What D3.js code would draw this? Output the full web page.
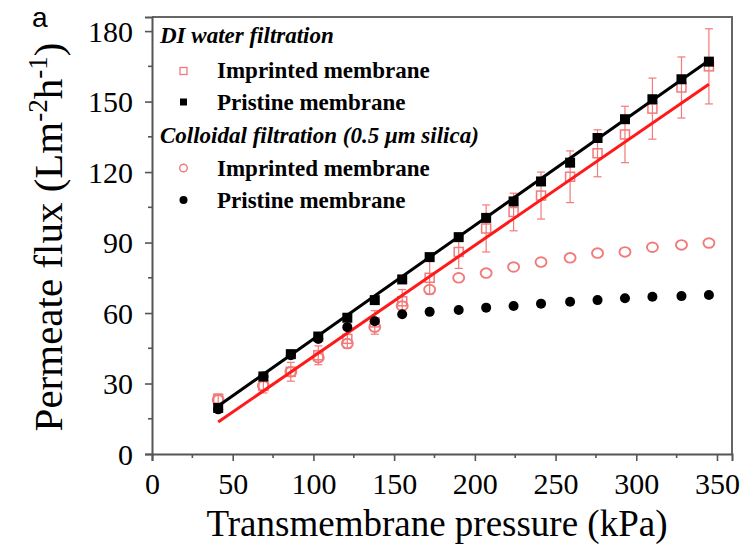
<!DOCTYPE html>
<html>
<head>
<meta charset="utf-8">
<script src="https://cdn.jsdelivr.net/npm/d3@7"></script>
<style>
  html, body { margin: 0; padding: 0; background: #fff; }
  svg { display: block; }
  text { font-family: "Liberation Serif", "Times New Roman", serif; fill: #000; }
</style>
</head>
<body>
<svg id="chart" width="741" height="546"></svg>
<script>
// Transmembrane pressure (kPa) at each measurement
const pressure = [41, 69, 86, 103, 121, 138, 155, 172, 190, 207, 224, 241, 259, 276, 293, 310, 328, 345];

// DI water filtration, permeate flux (L m^-2 h^-1)
const diImprinted    = [23.5, 29, 35, 42, 49, 56, 65, 75, 86, 96, 103, 110, 118, 128, 136, 147, 156, 165];
const diImprintedErr = [2, 3, 4, 4, 4, 5, 5, 7, 7, 10, 8, 10, 11, 10, 12, 13, 13, 16];
const diPristine     = [19.6, 33, 42.5, 50, 58, 65.5, 74.3, 83.8, 92.3, 100.5, 107.5, 116, 124, 134.5, 142.5, 151, 159.5, 167];

// Colloidal filtration (0.5 µm silica)
const colImprinted = [23, 29, 35, 41, 47, 54, 63, 70, 75, 77, 79.6, 81.7, 83.5, 85.5, 86, 88, 89, 89.8];
const colPristine  = [19, 33, 42, 49, 54, 56.5, 59.5, 60.5, 61.3, 62.3, 63, 64, 64.8, 65.5, 66.3, 66.9, 67.2, 67.7];

// Linear fits of the DI water flux: [intercept, slope]
const fitPristine  = [0.56, 0.4839];
const fitImprinted = [-5.79, 0.473];

// Axis ticks
const xTicks = [0, 50, 100, 150, 200, 250, 300, 350];
const yTicks = [0, 30, 60, 90, 120, 150, 180];
const xMinor = [25, 75, 125, 175, 225, 275, 325];
const yMinor = [15, 45, 75, 105, 135, 165];

const RED = "#ff1a1a";
const PINK = "#f27a7a";

const svg = d3.select("#chart");
const x = d3.scaleLinear().domain([0, 359.3]).range([152, 732]);
const y = d3.scaleLinear().domain([0, 186]).range([454, 17]);

// Panel letter
svg.append("text").attr("x", 32).attr("y", 27)
  .style("font-family", "'Liberation Sans', Arial, sans-serif")
  .style("font-size", "28px").text("a");

// Plot frame (top and right)
svg.append("path")
  .attr("d", `M${x(0)},${y(186)}H${x(359.3)}V${y(0)}`)
  .attr("fill", "none").attr("stroke", "#666").attr("stroke-width", 2);

// Axes
const xAxis = d3.axisBottom(x).tickValues(xTicks).tickSize(7).tickPadding(10).tickFormat(d3.format("d"));
const yAxis = d3.axisLeft(y).tickValues(yTicks).tickSize(7).tickPadding(12).tickFormat(d3.format("d"));

const gx = svg.append("g").attr("transform", `translate(0,${y(0)})`).call(xAxis);
const gy = svg.append("g").attr("transform", `translate(${x(0)},0)`).call(yAxis);
[gx, gy].forEach(g => {
  g.select(".domain").attr("stroke", "#555").attr("stroke-width", 2);
  g.selectAll(".tick line").attr("stroke", "#555").attr("stroke-width", 1.6);
  g.selectAll(".tick text").style("font-size", "30px")
    .style("font-family", "'Liberation Serif', 'Times New Roman', serif").attr("fill", "#000");
});
gx.selectAll(".tick text").attr("dy", "0.78em");
gy.selectAll(".tick text").attr("dy", "0.34em");

// Minor ticks
svg.append("g").selectAll("line").data(xMinor).join("line")
  .attr("x1", d => x(d)).attr("x2", d => x(d))
  .attr("y1", y(0)).attr("y2", y(0) + 4)
  .attr("stroke", "#555").attr("stroke-width", 1.6);
svg.append("g").selectAll("line").data(yMinor).join("line")
  .attr("x1", x(0) - 4).attr("x2", x(0))
  .attr("y1", d => y(d)).attr("y2", d => y(d))
  .attr("stroke", "#555").attr("stroke-width", 1.6);

// Axis titles
svg.append("text")
  .attr("x", 437).attr("y", 536)
  .attr("text-anchor", "middle")
  .style("font-size", "37px")
  .text("Transmembrane pressure (kPa)");

const yTitle = svg.append("text")
  .attr("transform", "translate(62,237) rotate(-90)")
  .attr("text-anchor", "middle")
  .style("font-size", "41px");
yTitle.append("tspan").text("Permeate flux (Lm");
yTitle.append("tspan").attr("dy", -15).style("font-size", "27px").text("-2");
yTitle.append("tspan").attr("dy", 15).text("h");
yTitle.append("tspan").attr("dy", -15).style("font-size", "27px").text("-1");
yTitle.append("tspan").attr("dy", 15).text(")");

const plot = svg.append("g");

// Error bars for the imprinted membrane (DI water)
const eb = plot.append("g").attr("stroke", PINK).attr("stroke-width", 1.2);
pressure.forEach((p, i) => {
  const cx = x(p), top = y(diImprinted[i] + diImprintedErr[i]), bot = y(diImprinted[i] - diImprintedErr[i]);
  eb.append("line").attr("x1", cx).attr("x2", cx).attr("y1", top).attr("y2", bot);
  eb.append("line").attr("x1", cx - 4).attr("x2", cx + 4).attr("y1", top).attr("y2", top);
  eb.append("line").attr("x1", cx - 4).attr("x2", cx + 4).attr("y1", bot).attr("y2", bot);
});

// Imprinted membrane markers (open red)
plot.append("g").selectAll("rect").data(pressure).join("rect")
  .attr("x", (d) => x(d) - 4.5).attr("y", (d, i) => y(diImprinted[i]) - 4.5)
  .attr("width", 9).attr("height", 9)
  .attr("fill", "none").attr("stroke", PINK).attr("stroke-width", 1.5);
plot.append("g").selectAll("ellipse").data(pressure).join("ellipse")
  .attr("cx", d => x(d)).attr("cy", (d, i) => y(colImprinted[i]))
  .attr("rx", 5.5).attr("ry", 4.8)
  .attr("fill", "none").attr("stroke", PINK).attr("stroke-width", 1.9);

// Linear fits
const xr = d3.extent(pressure);
const fitLine = d3.line().x(d => x(d[0])).y(d => y(d[1]));
[[fitImprinted, RED], [fitPristine, "#000"]].forEach(([f, c]) => {
  plot.append("path")
    .datum(xr.map(p => [p, f[0] + f[1] * p]))
    .attr("d", fitLine).attr("fill", "none")
    .attr("stroke", c).attr("stroke-width", 3);
});

// Pristine membrane markers (filled black)
plot.append("g").selectAll("circle").data(pressure).join("circle")
  .attr("cx", d => x(d)).attr("cy", (d, i) => y(colPristine[i]))
  .attr("r", 5).attr("fill", "#000");
plot.append("g").selectAll("rect").data(pressure).join("rect")
  .attr("x", d => x(d) - 5).attr("y", (d, i) => y(diPristine[i]) - 5)
  .attr("width", 10).attr("height", 10).attr("fill", "#000");

// Legend
const lg = svg.append("g");
const legendRows = [
  { kind: "head", text: "DI water filtration", yb: 43 },
  { kind: "rect-open", text: "Imprinted membrane", yb: 78, my: 71 },
  { kind: "rect-fill", text: "Pristine membrane", yb: 110, my: 102 },
  { kind: "head", text: "Colloidal filtration (0.5 \u03bcm silica)", yb: 143 },
  { kind: "circ-open", text: "Imprinted membrane", yb: 176, my: 168 },
  { kind: "circ-fill", text: "Pristine membrane", yb: 208, my: 200 }
];
legendRows.forEach(r => {
  if (r.kind === "head") {
    lg.append("text").attr("x", 160).attr("y", r.yb)
      .style("font-size", "23px").style("font-weight", "bold").style("font-style", "italic")
      .text(r.text);
    return;
  }
  lg.append("text").attr("x", 217).attr("y", r.yb)
    .style("font-size", "23px").style("font-weight", "bold").text(r.text);
  if (r.kind === "rect-open") lg.append("rect").attr("x", 180).attr("y", r.my - 3.5).attr("width", 7).attr("height", 7)
    .attr("fill", "none").attr("stroke", PINK).attr("stroke-width", 1.3);
  if (r.kind === "rect-fill") lg.append("rect").attr("x", 180).attr("y", r.my - 3.5).attr("width", 7).attr("height", 7).attr("fill", "#000");
  if (r.kind === "circ-open") lg.append("circle").attr("cx", 183.5).attr("cy", r.my).attr("r", 3.8)
    .attr("fill", "none").attr("stroke", PINK).attr("stroke-width", 1.4);
  if (r.kind === "circ-fill") lg.append("circle").attr("cx", 183.5).attr("cy", r.my).attr("r", 4).attr("fill", "#000");
});
</script>
</body>
</html>
